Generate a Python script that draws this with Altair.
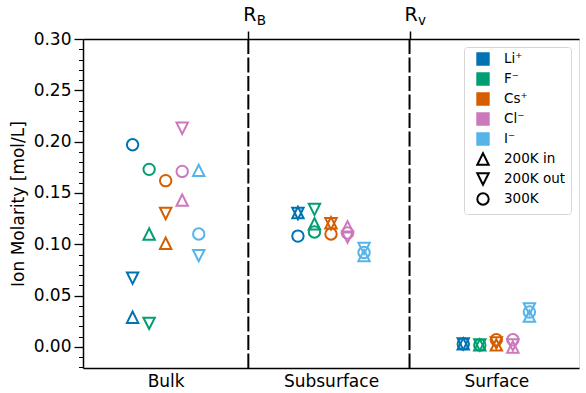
import json
import altair as alt
import pandas as pd

# ---------------- data ----------------
regions = ["Bulk", "Subsurface", "Surface"]
ions = ["Li⁺", "F⁻", "Cs⁺", "Cl⁻", "I⁻"]
conditions = ["200K in", "200K out", "300K"]
ion_colors = ["#0173b2", "#029e73", "#d55e00", "#cc78bc", "#56b4e9"]

# molarity per ion (Li, F, Cs, Cl, I)
bulk_in = [0.029, 0.110, 0.101, 0.143, 0.172]
bulk_out = [0.067, 0.023, 0.130, 0.213, 0.089]
bulk_300 = [0.197, 0.173, 0.162, 0.171, 0.110]
sub_in = [0.131, 0.120, 0.121, 0.117, 0.089]
sub_out = [0.130, 0.134, 0.120, 0.107, 0.096]
sub_300 = [0.108, 0.112, 0.110, 0.111, 0.092]
surf_in = [0.003, 0.002, 0.002, 0.000, 0.030]
surf_out = [0.003, 0.002, 0.004, 0.002, 0.037]
surf_300 = [0.003, 0.002, 0.007, 0.007, 0.034]

boundary_pos = [0.5, 1.475]
boundary_main = ["R", "R"]
boundary_sub = ["B", "v"]

y_major = [0.00, 0.05, 0.10, 0.15, 0.20, 0.25, 0.30]
y_minor = [round(i * 0.01, 2) for i in range(-2, 30) if i % 5 != 0]

# ---------------- tables ----------------
molarity = {
    "Bulk": {"200K in": bulk_in, "200K out": bulk_out, "300K": bulk_300},
    "Subsurface": {"200K in": sub_in, "200K out": sub_out, "300K": sub_300},
    "Surface": {"200K in": surf_in, "200K out": surf_out, "300K": surf_300},
}
rows = []
for ri, region in enumerate(regions):
    for ii, ion in enumerate(ions):
        for cond in conditions:
            rows.append({"region": region, "ri": ri, "ion": ion, "ii": ii,
                         "cond": cond, "value": molarity[region][cond][ii]})
df = pd.DataFrame(rows)
bdf = pd.DataFrame({"pos": boundary_pos, "main": boundary_main, "sub": boundary_sub})

UP = "M0,-1L-1,1L1,1Z"
DOWN = "M0,1L-1,-1L1,-1Z"
legend_keys = ions + conditions

xscale = alt.Scale(domain=[-0.5, 2.5], nice=False, zero=False)
yscale = alt.Scale(domain=[-0.0205, 0.30], nice=False, zero=False)
stroke_scale = alt.Scale(domain=legend_keys, range=ion_colors + ["black"] * 3)
fill_scale = alt.Scale(domain=legend_keys, range=ion_colors + ["transparent"] * 3)
shape_scale = alt.Scale(domain=legend_keys, range=["square"] * 5 + [UP, DOWN, "circle"])

FONT = "DejaVu Sans"

legend = alt.Legend(
    title=None, orient="none", legendX=381, legendY=8,
    labelFontSize=13.5, labelFont=FONT, labelColor="black",
    symbolSize=130, symbolStrokeWidth=2, symbolOpacity=1,
    padding=5, rowPadding=0, labelOffset=14, symbolOffset=7,
    strokeColor="#d6d6d6", cornerRadius=3, fillColor="white",
)

bottom_axis = alt.Axis(
    values=[0, 1, 2], labelExpr=json.dumps(regions) + "[datum.value]",
    ticks=False, grid=False, title=None,
    domain=True, domainColor="black", domainWidth=1.5,
    labelFontSize=17, labelFont=FONT, labelColor="black", labelPadding=5,
)
major_axis = alt.Axis(
    orient="left", values=y_major, format=".2f", grid=False,
    domain=True, domainColor="black", domainWidth=1.5,
    tickSize=9, tickWidth=1.3, tickColor="black",
    labelFontSize=17, labelFont=FONT, labelColor="black", labelPadding=3,
    title="Ion Molarity [mol/L]", titleFontSize=17, titleFont=FONT,
    titleFontWeight="normal", titleColor="black", titlePadding=6,
)
minor_axis = alt.Axis(
    orient="left", values=y_minor, labels=False, grid=False, domain=False,
    tickSize=4.5, tickWidth=1, tickColor="black", title=None,
)
top_axis = alt.Axis(
    orient="top", values=boundary_pos, labels=False, grid=False,
    domain=True, domainColor="black", domainWidth=1.5,
    tickSize=8, tickWidth=1.5, tickColor="black", title=None,
)

base = alt.Chart(df).transform_calculate(pos="datum.ri + (datum.ii - 2) * 0.1")

points = base.mark_point(filled=False, strokeWidth=2, size=130, opacity=1).encode(
    x=alt.X("pos:Q", scale=xscale, axis=bottom_axis),
    y=alt.Y("value:Q", scale=yscale, axis=major_axis),
    stroke=alt.Stroke("ion:N", scale=stroke_scale, legend=legend),
    fill=alt.Fill("cond:N", scale=fill_scale, legend=legend),
    shape=alt.Shape("cond:N", scale=shape_scale, legend=legend),
)

minor = base.transform_filter("false").mark_point().encode(
    x=alt.X("pos:Q", scale=xscale, axis=None),
    y=alt.Y("value:Q", scale=yscale, axis=minor_axis),
)

rules = alt.Chart(bdf).mark_rule(color="black", strokeWidth=2, strokeDash=[15, 3.5]).encode(
    x=alt.X("pos:Q", scale=xscale, axis=top_axis),
)

label_main = alt.Chart(bdf).mark_text(
    font=FONT, fontSize=19, baseline="alphabetic", align="center", color="black", dx=1.5
).encode(
    x=alt.X("pos:Q", scale=xscale, axis=None),
    y=alt.value(-18.3),
    text="main:N",
)
label_sub = alt.Chart(bdf).mark_text(
    font=FONT, fontSize=13.5, baseline="alphabetic", align="left", color="black", dx=8.5
).encode(
    x=alt.X("pos:Q", scale=xscale, axis=None),
    y=alt.value(-14),
    text="sub:N",
)

chart = (
    alt.layer(rules, minor, points, label_main, label_sub)
    .resolve_axis(x="independent", y="independent")
    .properties(
        width=496, height=329,
        autosize=alt.AutoSizeParams(type="none"),
        padding={"left": 83, "top": 39, "right": 7, "bottom": 25},
    )
    .configure_view(stroke="black", strokeWidth=1.5)
    .configure(font=FONT)
)

chart.save("out.html", embed_options={"renderer": "svg", "actions": False})
